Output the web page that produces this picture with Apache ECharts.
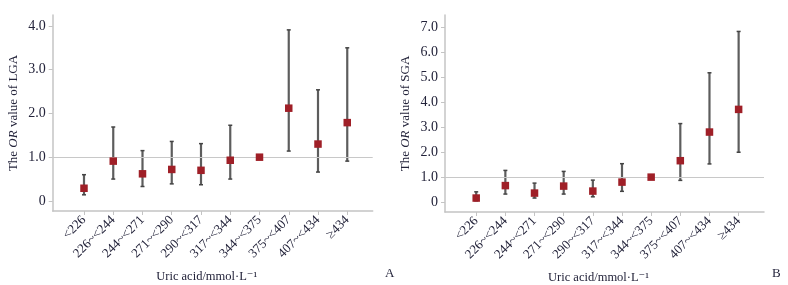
<!DOCTYPE html>
<html><head><meta charset="utf-8">
<script src="https://cdn.jsdelivr.net/npm/echarts@6/dist/echarts.min.js"></script>
<style>html,body{margin:0;padding:0;background:#fff}#c{width:788px;height:285px}</style>
</head><body><div id="c"></div>
<script>
const categories = ['<226','226~<244','244~<271','271~<290','290~<317','317~<344','344~<375','375~<407','407~<434','\u2265434'];
const lgaOR    = [0.29, 0.91, 0.62, 0.72, 0.70, 0.93, 1.00, 2.12, 1.30, 1.79];
const lgaLower = [0.14, 0.50, 0.33, 0.39, 0.37, 0.50, 1.00, 1.14, 0.66, 0.91];
const lgaUpper = [0.60, 1.69, 1.15, 1.36, 1.31, 1.73, 1.00, 3.91, 2.54, 3.50];
const sgaOR    = [0.16, 0.66, 0.36, 0.64, 0.44, 0.80, 1.00, 1.66, 2.81, 3.72];
const sgaLower = [0.05, 0.32, 0.16, 0.32, 0.21, 0.43, 1.00, 0.87, 1.53, 2.00];
const sgaUpper = [0.41, 1.27, 0.76, 1.23, 0.88, 1.54, 1.00, 3.15, 5.19, 6.85];
const lgaTicks = [0, 1, 2, 3, 4];
const sgaTicks = [0, 1, 2, 3, 4, 5, 6, 7];
const refValue = 1;

const FONT = '"Liberation Serif", "DejaVu Serif", serif';
const TXT = '#23233a';
const AX = '#c4c4c4';
const catIdx = categories.map((_, i) => i);

function xAxis(gi) {
  return {
    type: 'value', gridIndex: gi, min: -1.07, max: 9.87,
    axisLine: {show: true, onZero: false, lineStyle: {color: AX, width: 1.5}},
    axisTick: {show: true, customValues: catIdx, length: 4, lineStyle: {color: AX}},
    axisLabel: {customValues: catIdx, rotate: 45, margin: 7, fontFamily: FONT, fontSize: 13, color: TXT,
      formatter: v => categories[Math.round(v)] || ''},
    splitLine: {show: false},
    name: 'Uric acid/mmol\u00b7L\u207b\u00b9', nameLocation: 'middle', nameGap: 59,
    nameTextStyle: {fontFamily: FONT, fontSize: 12.5, color: TXT, padding: [0, 12, 0, 0]}
  };
}
function yAxis(gi, min, max, ticks, label) {
  return {
    type: 'value', gridIndex: gi, min: min, max: max,
    axisLine: {show: true, onZero: false, lineStyle: {color: AX, width: 1.5}},
    axisTick: {show: true, customValues: ticks, length: 4, lineStyle: {color: AX}},
    axisLabel: {customValues: ticks, margin: 7, fontFamily: FONT, fontSize: 14, color: TXT,
      formatter: v => v === 0 ? '0' : v.toFixed(1)},
    splitLine: {show: false},
    name: label, nameLocation: 'middle', nameRotate: 90, nameGap: 33,
    nameTextStyle: {fontFamily: FONT, fontSize: 13, color: TXT,
      rich: {i: {fontFamily: FONT, fontSize: 13, color: TXT, fontStyle: 'italic'}}}
  };
}
function errSeries(gi, lo, hi) {
  return {
    type: 'custom', xAxisIndex: gi, yAxisIndex: gi, z: 3,
    data: catIdx.map(i => [i, lo[i], hi[i]]),
    renderItem: function (params, api) {
      if (api.value(1) === api.value(2)) return null;
      const a = api.coord([api.value(0), api.value(1)]);
      const b = api.coord([api.value(0), api.value(2)]);
      const w = 2;
      return {type: 'group', children: [
        {type: 'line', shape: {x1: a[0], y1: a[1], x2: b[0], y2: b[1]}, style: {stroke: '#5d5d5d', lineWidth: 2.2}},
        {type: 'line', shape: {x1: a[0]-w, y1: a[1], x2: a[0]+w, y2: a[1]}, style: {stroke: '#444', lineWidth: 1.5}},
        {type: 'line', shape: {x1: b[0]-w, y1: b[1], x2: b[0]+w, y2: b[1]}, style: {stroke: '#444', lineWidth: 1.5}}
      ]};
    }
  };
}
function ptSeries(gi, vals) {
  return {
    type: 'scatter', xAxisIndex: gi, yAxisIndex: gi, z: 5,
    symbol: 'rect', symbolSize: 7.5,
    itemStyle: {color: '#9f1f27', opacity: 1},
    data: catIdx.map(i => [i, vals[i]]),
    markLine: {silent: true, symbol: 'none', label: {show: false},
      lineStyle: {color: '#c8c8c8', width: 1.2, type: 'solid'},
      data: [{yAxis: refValue}]}
  };
}

const chart = echarts.init(document.getElementById('c'), null, {renderer: 'canvas'});
chart.setOption({
  animation: false,
  backgroundColor: '#fff',
  grid: [
    {left: 52.7, top: 15, width: 320, height: 196, containLabel: false, outerBoundsMode: 'none'},
    {left: 445, top: 15, width: 319, height: 197, containLabel: false, outerBoundsMode: 'none'}
  ],
  xAxis: [xAxis(0), xAxis(1)],
  yAxis: [
    yAxis(0, -0.23, 4.25, lgaTicks, 'The {i|OR} value of LGA'),
    yAxis(1, -0.40, 7.51, sgaTicks, 'The {i|OR} value of SGA')
  ],
  series: [
    errSeries(0, lgaLower, lgaUpper), ptSeries(0, lgaOR),
    errSeries(1, sgaLower, sgaUpper), ptSeries(1, sgaOR)
  ],
  graphic: [
    {type: 'text', left: 385, top: 267, style: {text: 'A', font: '13px ' + FONT, fill: TXT}},
    {type: 'text', left: 772, top: 267, style: {text: 'B', font: '13px ' + FONT, fill: TXT}}
  ]
});
</script></body></html>
